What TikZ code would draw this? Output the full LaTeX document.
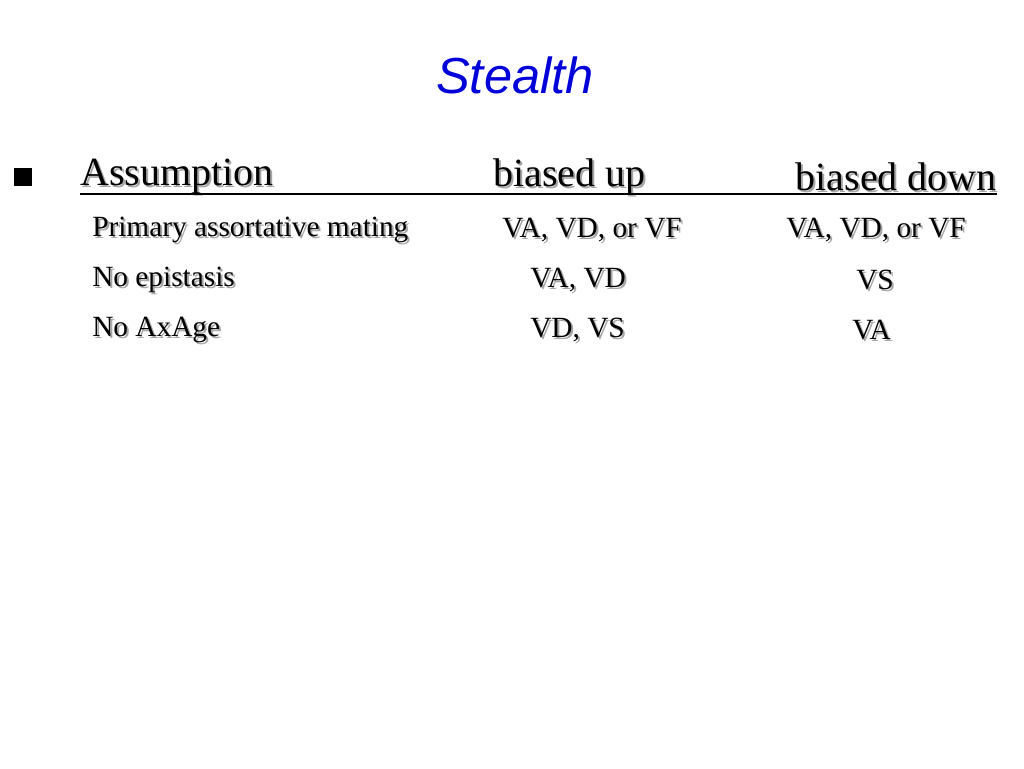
\documentclass[tikz,border=0pt]{standalone}
\usepackage{fontspec}
\setmainfont{Liberation Serif}
\newfontfamily\titlefont{Liberation Sans}
\usetikzlibrary{calc}
\newcommand\stxt[4]{%
  \node[gray!70,anchor=#3,inner sep=0pt] at ($(#2)+(2,2)$) {#4};
  \node[anchor=#3,inner sep=0pt] (#1) at (#2) {#4};}
\begin{document}
\begin{tikzpicture}[x=0.75pt,y=-0.75pt]
\useasboundingbox (0,0) rectangle (1024,768);
\node[text=blue!85!black,font=\titlefont\itshape\fontsize{38}{44}\selectfont] (title) at (515,75) {Stealth};
\fill (14,168) rectangle (32,186);
\begin{scope}[font=\fontsize{30}{34}\selectfont]
\stxt{h1}{80,177}{west}{Assumption}
\stxt{h2}{493,177}{west}{biased up}
\stxt{h3}{997,177}{east}{biased down}
\end{scope}
\draw[line width=1.2pt] (80,194) -- (997,194);
\begin{scope}[font=\fontsize{22}{26}\selectfont]
\stxt{a1}{92,230}{west}{Primary assortative mating}
\stxt{a2}{502,230}{west}{VA, VD, or VF}
\stxt{a3}{786,230}{west}{VA, VD, or VF}
\stxt{b1}{92,280}{west}{No epistasis}
\stxt{b2}{530,280}{west}{VA, VD}
\stxt{b3}{856,280}{west}{VS}
\stxt{c1}{92,330}{west}{No AxAge}
\stxt{c2}{530,330}{west}{VD, VS}
\stxt{c3}{852,330}{west}{VA}
\end{scope}
\end{tikzpicture}
\end{document}
